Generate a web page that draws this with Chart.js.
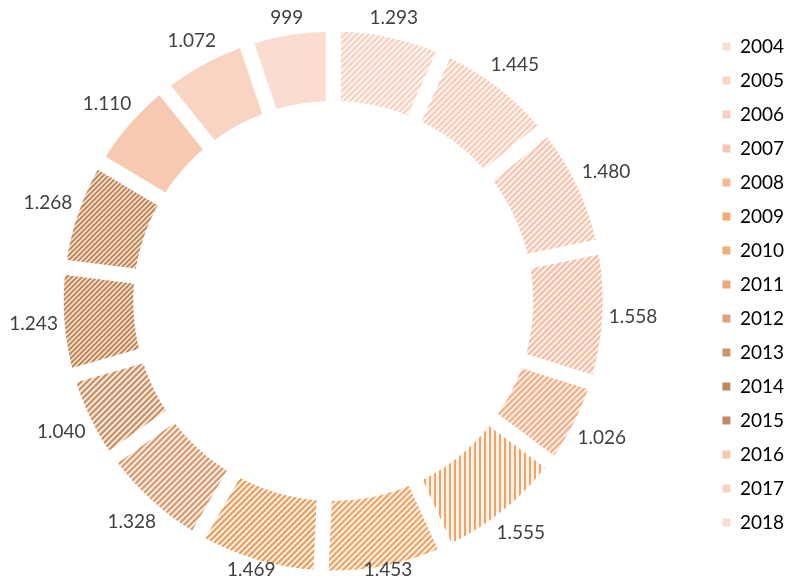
<!DOCTYPE html>
<html>
<head>
<meta charset="utf-8">
<script src="https://cdn.jsdelivr.net/npm/chart.js@4/dist/chart.umd.min.js"></script>
<style>
  html, body { margin: 0; padding: 0; background: #fff; overflow: hidden; }
  /* canvas is a bit wider and pulled left so the ring sits where it should */
  #chart { position: absolute; left: -41px; top: 0; }
</style>
</head>
<body>
<canvas id="chart" width="828" height="584"></canvas>
<script>
// ---- data ----
const years = ["2004", "2005", "2006", "2007", "2008", "2009", "2010", "2011",
               "2012", "2013", "2014", "2015", "2016", "2017", "2018"];
const values = [1293, 1445, 1480, 1558, 1026, 1555, 1453, 1469,
                1328, 1040, 1243, 1268, 1110, 1072, 999];

// ---- styling per slice ----
const stripeColors = ["#F8D0BF", "#F8CAB7", "#F7C3AC", "#F6BBA0", "#F3AC84", "#F3A465", "#EFA262", "#E89C5C",
                      "#D8976A", "#C88E60", "#BB8355", "#BB8456", "#F8C9B1", "#F9D4C3", "#FADDD0"];
const stripeBacks  = ["#FFF6F2", "#FFF5F0", "#FFF3EE", "#FFF1EA", "#FFEDE3", "#FFF4EB", "#FFF1E6", "#FEF0E4",
                      "#FBEDE2", "#F8E9DC", "#F3E0CC", "#F3E0CC", null, null, null];
const stripeKinds  = ["diag", "diag", "diag", "diag", "diag", "vert", "diag", "diag",
                      "diag", "diag", "dense", "dense", "solid", "solid", "solid"];
const legendColors = ["#F9DDD2", "#F9D6C9", "#F8CFBE", "#F7C7B1", "#F4B78F", "#F3A96C", "#EFAE7B", "#EBA977",
                      "#DDA27C", "#CE966C", "#C1895D", "#C08A5E", "#F9C6AE", "#F9D3C2", "#FADCD0"];

function makePattern(color, back, kind) {
  if (kind === "solid") return color;
  const s = kind === "dense" ? 5 : (kind === "vert" ? 5 : 6);
  const c = document.createElement("canvas");
  c.width = s; c.height = s;
  const g = c.getContext("2d");
  g.fillStyle = back;
  g.fillRect(0, 0, s, s);
  g.fillStyle = color;
  g.strokeStyle = color;
  if (kind === "vert") {
    g.fillRect(0, 0, 2, s);
  } else {
    g.lineWidth = kind === "dense" ? 1.9 : 2.1;
    g.beginPath();
    g.moveTo(0, s); g.lineTo(s, 0);
    g.moveTo(-s / 2, s / 2); g.lineTo(s / 2, -s / 2);
    g.moveTo(s / 2, s * 1.5); g.lineTo(s * 1.5, s / 2);
    g.stroke();
  }
  return g.createPattern(c, "repeat");
}

function fmt(v) {
  return v >= 1000 ? Math.floor(v / 1000) + "." + String(v % 1000).padStart(3, "0") : String(v);
}

// value labels outside the ring, kept inside the picture
const outsideLabels = {
  id: "outsideLabels",
  afterDatasetsDraw(chart) {
    const ctx = chart.ctx;
    const arcs = chart.getDatasetMeta(0).data;
    const border = chart.data.datasets[0].borderWidth / 2;
    ctx.save();
    ctx.font = "19px Lato";
    ctx.fillStyle = "#404040";
    ctx.textAlign = "center";
    ctx.textBaseline = "middle";
    arcs.forEach((arc, i) => {
      const p = arc.getProps(["x", "y", "startAngle", "endAngle", "outerRadius"], true);
      const mid = (p.startAngle + p.endAngle) / 2;
      const text = fmt(values[i]);
      const w = ctx.measureText(text).width;
      const cos = Math.cos(mid), sin = Math.sin(mid);
      const r = p.outerRadius - border + 6 + Math.abs(cos) * w / 2 + Math.abs(sin) * 10;
      const y = Math.min(Math.max(p.y + sin * r, 18), chart.height - 14);
      ctx.fillText(text, p.x + cos * r, y);
    });
    ctx.restore();
  }
};

Chart.defaults.font.family = "Lato";

new Chart(document.getElementById("chart"), {
  type: "doughnut",
  data: {
    labels: years,
    datasets: [{
      data: values,
      backgroundColor: values.map((v, i) => makePattern(stripeColors[i], stripeBacks[i], stripeKinds[i])),
      borderColor: "#FFFFFF",
      borderWidth: 15,
      hoverBorderWidth: 15,
    }],
  },
  options: {
    responsive: false,
    animation: false,
    radius: 277,
    cutout: "69.5%",
    layout: { padding: { top: 22, bottom: 4, left: 0, right: -7 } },
    plugins: {
      tooltip: { enabled: false },
      legend: {
        position: "right",
        align: "start",
        labels: {
          boxWidth: 8,
          boxHeight: 8,
          padding: 15,
          color: "#595959",
          font: { size: 19 },
          generateLabels: () => years.map((y, i) => ({
            text: y,
            fillStyle: legendColors[i],
            strokeStyle: legendColors[i],
            lineWidth: 0,
            index: i,
            hidden: false,
          })),
        },
      },
    },
  },
  plugins: [outsideLabels],
});
</script>
</body>
</html>
